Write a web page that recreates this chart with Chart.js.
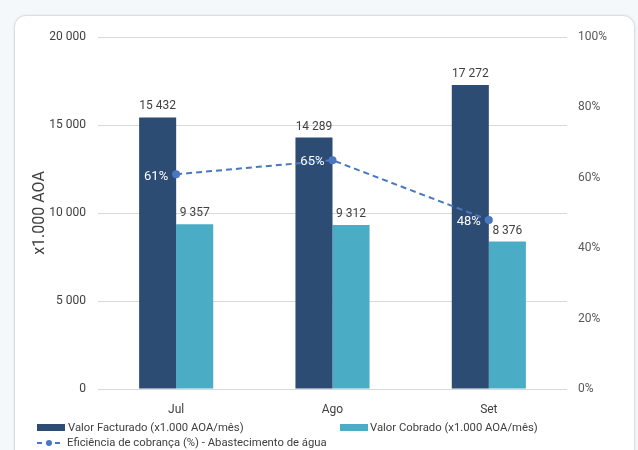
<!DOCTYPE html>
<html>
<head>
<meta charset="utf-8">
<script src="https://cdn.jsdelivr.net/npm/chart.js@4"></script>
<style>
  html, body { margin: 0; padding: 0; background: #f4f8fb; }
  body { width: 638px; height: 450px; position: relative; overflow: hidden; font-family: 'Liberation Sans Narrow', 'Roboto', sans-serif; }
  .card { position: absolute; left: 14px; top: 15px; width: 619px; height: 460px; background: #fff; border: 1px solid #d9dee3; border-radius: 12px; box-shadow: 0 0 3px rgba(0,0,0,0.08); }
  #wrap { position: absolute; left: 0; top: 0; width: 638px; height: 450px; }
  .lg { position: absolute; font-size: 11.3px; color: #404040; white-space: nowrap; line-height: 14px; }
  .sw { position: absolute; height: 7px; width: 28px; }
</style>
</head>
<body>
<div class="card"></div>
<div id="wrap"><canvas id="chart"></canvas></div>

<div class="sw" style="left:37px; top:424px; background:#2c4c74"></div>
<div class="lg" style="left:68px; top:421px">Valor Facturado (x1.000 AOA/mês)</div>
<div class="sw" style="left:340px; top:424px; background:#4bacc6"></div>
<div class="lg" style="left:370px; top:421px">Valor Cobrado (x1.000 AOA/mês)</div>
<svg style="position:absolute; left:36px; top:438px" width="28" height="10">
  <line x1="1" y1="5" x2="27" y2="5" stroke="#4a78c0" stroke-width="2" stroke-dasharray="5,4"/>
  <circle cx="13" cy="5" r="3" fill="#4a78c0"/>
</svg>
<div class="lg" style="left:67px; top:436px">Eficiência de cobrança (%) - Abastecimento de água</div>

<script>
// dados do gráfico
const meses = ['Jul', 'Ago', 'Set'];
const valorFacturado = [15432, 14289, 17272];
const valorCobrado = [9357, 9312, 8376];
const eficiencia = [61, 65, 48];

const corEscura = '#2c4c74';
const corClara = '#4bacc6';
const corLinha = '#4a78c0';
const fonte = "'Liberation Sans Narrow', 'Roboto', sans-serif";

function milhares(v) {
    return String(Math.round(v)).replace(/\B(?=(\d{3})+(?!\d))/g, ' ');
}

// escreve os valores em cima das barras e ao lado dos pontos
const rotulos = {
    id: 'rotulos',
    afterDatasetsDraw(chart) {
        const ctx = chart.ctx;
        ctx.save();
        chart.data.datasets.forEach((ds, i) => {
            const meta = chart.getDatasetMeta(i);
            meta.data.forEach((el, j) => {
                if (ds.type === 'line') {
                    ctx.font = '13px ' + fonte;
                    ctx.fillStyle = '#ffffff';
                    ctx.textAlign = 'right';
                    ctx.textBaseline = 'middle';
                    ctx.fillText(ds.data[j] + '%', el.x - 8, el.y + 2);
                } else {
                    ctx.font = '12px ' + fonte;
                    ctx.fillStyle = '#404040';
                    ctx.textAlign = 'center';
                    ctx.textBaseline = 'bottom';
                    ctx.fillText(milhares(ds.data[j]), el.x, el.y - 5);
                }
            });
        });
        ctx.restore();
    }
};

new Chart(document.getElementById('chart'), {
    data: {
        labels: meses,
        datasets: [
            {
                type: 'line',
                label: 'Eficiência de cobrança (%) - Abastecimento de água',
                data: eficiencia,
                yAxisID: 'y1',
                borderColor: corLinha,
                backgroundColor: corLinha,
                borderWidth: 2,
                borderDash: [6, 4],
                pointRadius: 3,
                pointHoverRadius: 3,
                tension: 0,
                order: 0
            },
            {
                type: 'bar',
                label: 'Valor Facturado (x1.000 AOA/mês)',
                data: valorFacturado,
                backgroundColor: corEscura,
                yAxisID: 'y',
                barPercentage: 1,
                categoryPercentage: 0.474,
                order: 1
            },
            {
                type: 'bar',
                label: 'Valor Cobrado (x1.000 AOA/mês)',
                data: valorCobrado,
                backgroundColor: corClara,
                yAxisID: 'y',
                barPercentage: 1,
                categoryPercentage: 0.474,
                order: 1
            }
        ]
    },
    options: {
        responsive: true,
        maintainAspectRatio: false,
        animation: false,
        layout: { padding: { left: 0, right: 0, top: 37, bottom: 31 } },
        plugins: {
            legend: { display: false },
            tooltip: { enabled: false }
        },
        scales: {
            x: {
                grid: { display: false },
                border: { display: false },
                ticks: { color: '#404040', font: { family: fonte, size: 12 }, padding: 6 },
                afterFit(s) { s.height = 30; }
            },
            y: {
                position: 'left',
                min: 0,
                max: 20000,
                ticks: {
                    stepSize: 5000,
                    color: '#404040',
                    font: { family: fonte, size: 12 },
                    padding: 12,
                    callback: v => milhares(v)
                },
                grid: { color: '#d9d9d9', drawTicks: false },
                border: { display: false },
                title: {
                    display: true,
                    text: 'x1.000 AOA',
                    color: '#404040',
                    font: { family: fonte, size: 16 },
                    padding: { top: 30, bottom: 0 }
                },
                afterFit(s) { s.width = 98; }
            },
            y1: {
                position: 'right',
                min: 0,
                max: 100,
                ticks: {
                    stepSize: 20,
                    color: '#595959',
                    font: { family: fonte, size: 12 },
                    padding: 11,
                    callback: v => v + '%'
                },
                grid: { drawOnChartArea: false, drawTicks: false },
                border: { display: false },
                afterFit(s) { s.width = 71; }
            }
        }
    },
    plugins: [rotulos]
});
</script>
</body>
</html>
